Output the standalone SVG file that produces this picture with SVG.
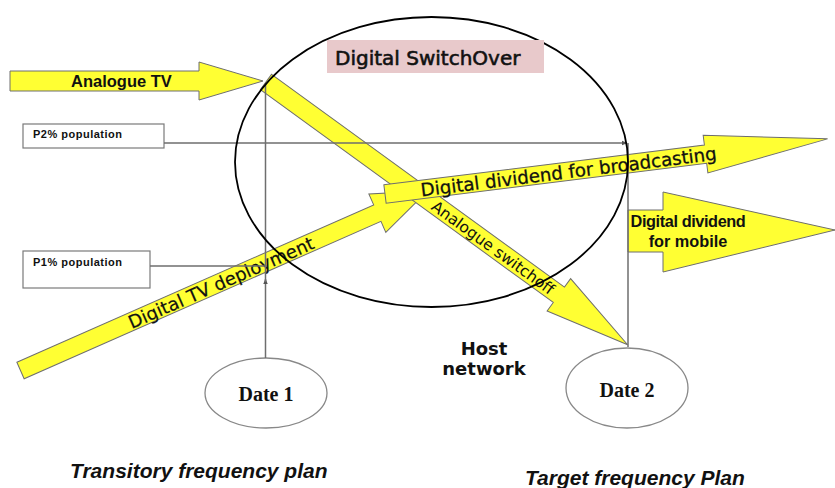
<svg xmlns="http://www.w3.org/2000/svg" width="835" height="488" viewBox="0 0 835 488">
<defs>
<style>
.arr{fill:#ffff33;stroke:#6e6e6e;stroke-width:1}
.ln{stroke:#6e6e6e;stroke-width:1.5;fill:none}
.box{fill:#fff;stroke:#7a7a7a;stroke-width:1.2}
.dt{fill:#fff;stroke:#888;stroke-width:1.3}
.sans{font-family:"DejaVu Sans","Liberation Sans",sans-serif;fill:#111}
.arial{font-family:"Liberation Sans",Arial,sans-serif;fill:#111}
.serif{font-family:"Liberation Serif","Times New Roman",serif;font-weight:bold;fill:#111}
</style>
<marker id="ah" viewBox="0 0 10 10" refX="9" refY="5" markerWidth="6" markerHeight="6" orient="auto" markerUnits="userSpaceOnUse">
<path d="M0,1 L10,5 L0,9 z" fill="#555"/>
</marker>
</defs>
<rect width="835" height="488" fill="#fff"/>

<g id="analogue-tv">
<polygon class="arr" points="10,71 199,71 199,62 263,81 199,100 199,91 10,91"/>
<text class="arial" x="71" y="87" font-size="16.5" font-weight="bold">Analogue TV</text>
</g>

<g id="digital-tv-deployment" transform="translate(20.5,370.5) rotate(-23.8)">
<polygon class="arr" points="0,-9 390,-9 390,-21 445,0 390,21 390,9 0,9"/>
<text class="sans" x="219" y="7" font-size="18" text-anchor="middle" stroke="#111" stroke-width="0.2">Digital TV deployment</text>
</g>

<g id="analogue-switchoff" transform="translate(266,82) rotate(36)">
<polygon class="arr" points="0,-9.5 362,-9.5 362,-20 447,0 362,20 362,9.5 0,9.5"/>
<text class="sans" x="281" y="6" font-size="15.5" text-anchor="middle">Analogue switchoff</text>
</g>

<g id="digital-dividend-broadcasting" transform="translate(385,194) rotate(-7.1)">
<polygon class="arr" points="0,-9.2 323,-9.2 323,-19 446,0 323,19 323,9.2 0,9.2"/>
<text class="sans" x="36" y="7" font-size="18.2" stroke="#111" stroke-width="0.3">Digital dividend for broadcasting</text>
</g>

<g id="digital-dividend-mobile">
<polygon class="arr" points="628,210 663,210 663,192 835,230 663,272 663,252 628,252"/>
<text class="arial" x="688" y="227" font-size="16.3" font-weight="bold" text-anchor="middle" letter-spacing="-0.4">Digital dividend</text>
<text class="arial" x="688" y="247" font-size="16.3" font-weight="bold" text-anchor="middle">for mobile</text>
</g>

<g id="p2-population">
<rect class="box" x="23" y="124" width="141" height="24"/>
<text class="arial" x="33" y="138" font-size="11" font-weight="bold" letter-spacing="0.5">P2% population</text>
</g>

<g id="p1-population">
<rect class="box" x="23" y="251" width="127" height="37"/>
<text class="arial" x="33" y="266" font-size="11" font-weight="bold" letter-spacing="0.5">P1% population</text>
</g>

<g id="date-1">
<ellipse class="dt" cx="266" cy="393" rx="61" ry="35"/>
<text class="serif" x="266" y="401" font-size="20" text-anchor="middle">Date 1</text>
</g>

<g id="date-2">
<ellipse class="dt" cx="627" cy="388" rx="61" ry="40"/>
<text class="serif" x="627" y="397" font-size="20" text-anchor="middle">Date 2</text>
</g>

<g id="connectors">
<line class="ln" x1="164" y1="143" x2="627" y2="143" marker-end="url(#ah)"/>
<line class="ln" x1="150" y1="266" x2="267" y2="266"/>
<line class="ln" x1="265.5" y1="358" x2="265.5" y2="279" marker-end="url(#ah)"/>
<line class="ln" x1="265.5" y1="282" x2="265.5" y2="83"/>
<line class="ln" x1="628" y1="143" x2="628" y2="347"/>
</g>

<g id="digital-switchover">
<ellipse cx="431.5" cy="162" rx="196.5" ry="145" fill="none" stroke="#000" stroke-width="1.8"/>
<rect x="327" y="40" width="217" height="33" fill="#e8c9cb"/>
<text class="sans" x="335" y="65" font-size="20" stroke="#111" stroke-width="0.6">Digital SwitchOver</text>
</g>

<g id="host-network">
<text class="sans" x="484" y="355" font-size="18" font-weight="bold" text-anchor="middle">Host</text>
<text class="sans" x="484" y="375" font-size="18" font-weight="bold" text-anchor="middle">network</text>
</g>

<g id="captions">
<text class="arial" x="70" y="478" font-size="21" font-weight="bold" font-style="italic">Transitory frequency plan</text>
<text class="arial" x="525" y="485" font-size="21" font-weight="bold" font-style="italic">Target frequency Plan</text>
</g>
</svg>
